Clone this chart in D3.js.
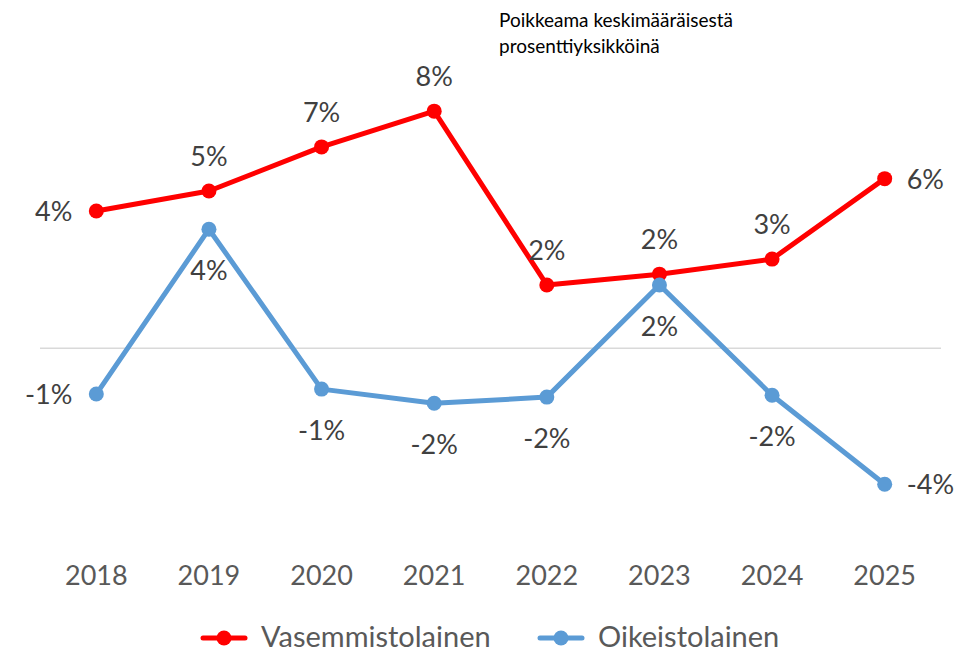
<!DOCTYPE html>
<html>
<head>
<meta charset="utf-8">
<script src="https://cdn.jsdelivr.net/npm/d3@7/dist/d3.min.js"></script>
<style>
  body { margin: 0; background: #fff; }
  svg { font-family: Lato, "Open Sans", sans-serif; }
</style>
</head>
<body>
<div id="chart"></div>
<script>
'use strict';

// data
var years = ['2018', '2019', '2020', '2021', '2022', '2023', '2024', '2025'];
var leftValues = [4.45, 5.1, 6.53, 7.69, 2.05, 2.4, 2.89, 5.5];
var rightValues = [-1.49, 3.86, -1.33, -1.79, -1.59, 2.05, -1.53, -4.42];
var seriesNames = ['Vasemmistolainen', 'Oikeistolainen'];
var titleLines = ['Poikkeama keskimääräisestä', 'prosenttiyksikköinä'];

var width = 966,
    height = 654;

var svg = d3.select('#chart').append('svg')
    .attr('width', width)
    .attr('height', height);

var x = d3.scaleBand().domain(years).range([40, 941]);
var y = d3.scaleLinear().domain([-6, 10]).range([533, 40]);

function cx(d, i){ return x(years[i]) + x.bandwidth() / 2; }

// zero line
svg.append('line')
    .attr('x1', 40).attr('x2', 941)
    .attr('y1', y(0)).attr('y2', y(0))
    .style('stroke', '#d9d9d9')
    .style('stroke-width', 1.5);

// x labels
svg.append('g').selectAll('text').data(years).enter().append('text')
    .attr('x', function(d){ return x(d) + x.bandwidth() / 2; })
    .attr('y', 585)
    .attr('text-anchor', 'middle')
    .style('font-size', '27px')
    .style('fill', '#595959')
    .text(function(d){ return d; });

// title
svg.append('g').selectAll('text').data(titleLines).enter().append('text')
    .attr('x', 499)
    .attr('y', function(d, i){ return 27 + i * 26; })
    .style('font-size', '19px')
    .style('fill', '#000')
    .text(function(d){ return d; });

var series = [
    {name: seriesNames[0], values: leftValues, color: '#ff0000'},
    {name: seriesNames[1], values: rightValues, color: '#5b9bd5'}
];

var line = d3.line()
    .x(cx)
    .y(function(d){ return y(d); });

series.forEach(function(s){
    var g = svg.append('g');
    g.append('path')
        .datum(s.values)
        .attr('d', line)
        .style('fill', 'none')
        .style('stroke', s.color)
        .style('stroke-width', 5)
        .style('stroke-linejoin', 'round');
    g.selectAll('circle').data(s.values).enter().append('circle')
        .attr('cx', cx)
        .attr('cy', function(d){ return y(d); })
        .attr('r', 7.5)
        .style('fill', s.color);
});

// data labels: placement per point as in the original
var leftPos = ['left', 'above', 'above', 'above', 'above', 'above', 'above', 'right'];
var rightPos = ['left', 'below', 'below', 'below', 'below', 'below', 'below', 'right'];

function addLabels(values, pos){
    svg.append('g').selectAll('text').data(values).enter().append('text')
        .attr('x', function(d, i){
            var p = pos[i];
            if (p === 'left') return cx(d, i) - 24;
            if (p === 'right') return cx(d, i) + 22;
            return cx(d, i);
        })
        .attr('y', function(d, i){
            var p = pos[i];
            if (p === 'above') return y(d) - 25;
            if (p === 'below') return y(d) + 51;
            return y(d) + 10;
        })
        .attr('text-anchor', function(d, i){
            var p = pos[i];
            return p === 'left' ? 'end' : (p === 'right' ? 'start' : 'middle');
        })
        .style('font-size', '27px')
        .style('fill', '#404040')
        .text(function(d){ return Math.round(d) + '%'; });
}
addLabels(leftValues, leftPos);
addLabels(rightValues, rightPos);

// legend
var legendX = [203, 540];
series.forEach(function(s, i){
    var lg = svg.append('g').attr('transform', 'translate(' + legendX[i] + ',638)');
    lg.append('line')
        .attr('x1', 0).attr('x2', 42)
        .style('stroke', s.color)
        .style('stroke-width', 5)
        .style('stroke-linecap', 'round');
    lg.append('circle').attr('cx', 21).attr('r', 7.5).style('fill', s.color);
    lg.append('text')
        .attr('x', 58)
        .attr('y', 9)
        .style('font-size', '29px')
        .style('fill', '#595959')
        .text(s.name);
});
</script>
</body>
</html>
